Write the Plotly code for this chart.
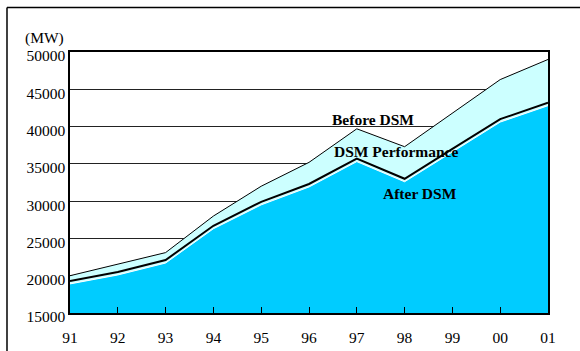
import plotly.graph_objects as go

# Peak demand, MW
years = ["91", "92", "93", "94", "95", "96", "97", "98", "99", "00", "01"]
before_dsm = [20000, 21500, 23100, 28000, 32000, 35200, 39700, 37300, 41800, 46300, 49000]
after_dsm = [19300, 20500, 22100, 26700, 29900, 32300, 35700, 33000, 37000, 41000, 43200]

y_ticks = [15000, 20000, 25000, 30000, 35000, 40000, 45000, 50000]

xpos = list(range(len(years)))
SERIF = "Liberation Serif"
BLUE = "#00CCFF"
PALE = "#CCFFFF"
Y_RANGE = [15000, 50000]
FILL_DROP = 400  # blue shading sits a few pixels under the black line

fig = go.Figure()

# demand before DSM: pale band down to the axis
fig.add_trace(go.Scatter(
    x=xpos, y=before_dsm, mode="lines", fill="tozeroy",
    fillcolor=PALE, line=dict(color="black", width=1),
    hoverinfo="skip", showlegend=False,
))
# demand after DSM: blue shading with a white edge
fig.add_trace(go.Scatter(
    x=xpos, y=after_dsm, mode="lines", fill="tozeroy", yaxis="y2",
    fillcolor=BLUE, line=dict(color="white", width=1),
    hoverinfo="skip", showlegend=False,
))
# after-DSM outline
fig.add_trace(go.Scatter(
    x=xpos, y=after_dsm, mode="lines", yaxis="y3",
    line=dict(color="black", width=2),
    hoverinfo="skip", showlegend=False,
))

fig.update_layout(
    width=580, height=351,
    margin=dict(l=70, r=32, t=52, b=38),
    paper_bgcolor="white", plot_bgcolor="white",
    font=dict(family=SERIF, size=15.5, color="black"),
    xaxis=dict(
        range=[0, 10], tickvals=xpos, ticktext=years, automargin=False,
        showgrid=False, zeroline=False,
        showline=True, linecolor="black", linewidth=1.5, mirror=True,
        ticks="inside", ticklen=6, tickcolor="black", tickwidth=1,
        ticklabelstandoff=10, tickfont=dict(family=SERIF, size=15.5),
    ),
    yaxis=dict(
        range=Y_RANGE, tickvals=y_ticks, ticktext=[str(v) for v in y_ticks],
        automargin=False,
        showgrid=True, gridcolor="#222", gridwidth=1, zeroline=False,
        showline=True, linecolor="black", linewidth=1.5, mirror=True,
        ticks="", ticklabelstandoff=0, ticklabelshift=4,
        tickfont=dict(family=SERIF, size=15.5),
    ),
    yaxis2=dict(range=[Y_RANGE[0] + FILL_DROP, Y_RANGE[1] + FILL_DROP],
                overlaying="y", visible=False),
    yaxis3=dict(range=Y_RANGE, overlaying="y", visible=False),
    annotations=[
        dict(text="(MW)", xref="paper", yref="paper", x=-0.053, y=1.054,
             showarrow=False, xanchor="center", yanchor="middle",
             font=dict(family=SERIF, size=15.5)),
        dict(text="<b>Before DSM</b>", x=6.34, y=41000, showarrow=False,
             xanchor="center", yanchor="middle", font=dict(family=SERIF, size=15.5)),
        dict(text="<b>DSM Performance</b>", x=6.83, y=36600, showarrow=False,
             xanchor="center", yanchor="middle", font=dict(family=SERIF, size=15.5)),
        dict(text="<b>After DSM</b>", x=7.32, y=31000, showarrow=False,
             xanchor="center", yanchor="middle", font=dict(family=SERIF, size=15.5)),
    ],
    shapes=[
        # outer frame, top and left edges
        dict(type="line", xref="paper", yref="paper", x0=-0.1318, x1=1.2,
             y0=1.1705, y1=1.1705, line=dict(color="black", width=1.5)),
        dict(type="line", xref="paper", yref="paper", x0=-0.1318, x1=-0.1318,
             y0=1.1705, y1=-0.2, line=dict(color="black", width=1.5)),
    ],
)

fig.write_html("out.html")
